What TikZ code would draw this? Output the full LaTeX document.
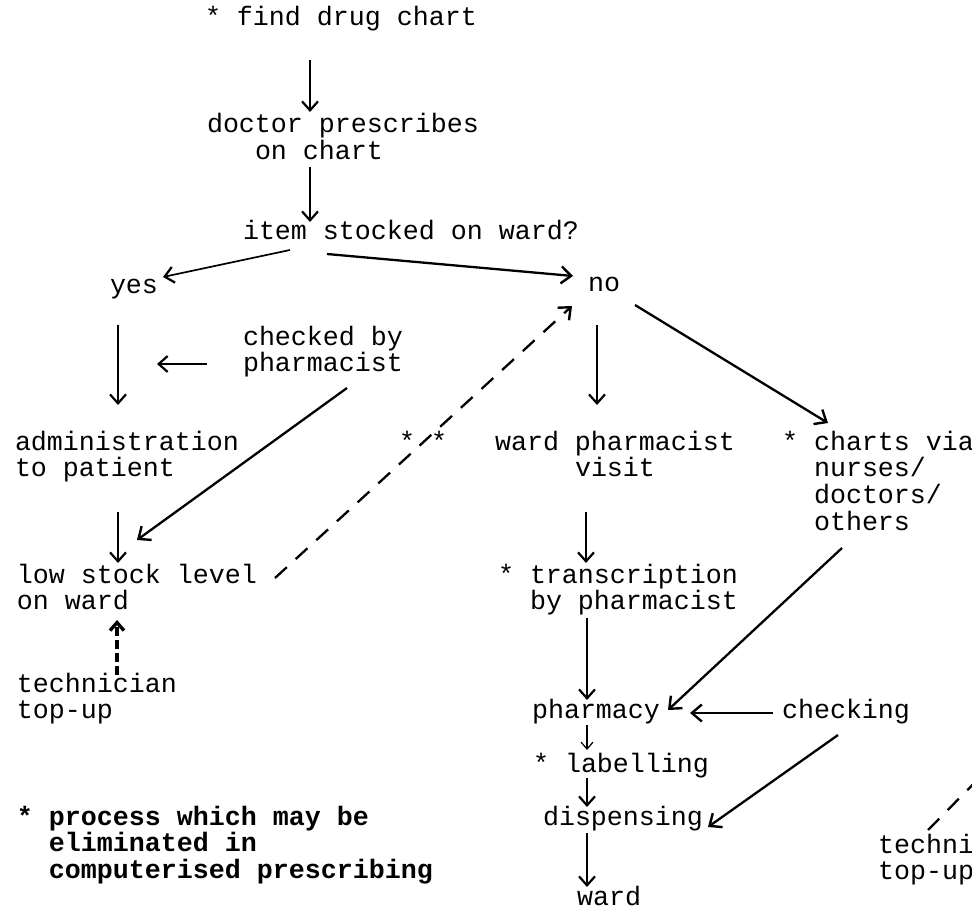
\documentclass[tikz,border=0pt]{standalone}
\usepackage{fontspec}
\newfontfamily\mono{Liberation Mono}
\usetikzlibrary{arrows.meta,calc}
\newcommand\ml[1]{\vtop{\lineskiplimit=-100pt\lineskip=0pt #1}}
\newcommand\ph[1]{\phantom{#1}}
\tikzset{
  txt/.style={inner sep=0pt, outer sep=0pt, anchor=base west, font=\mono\fontsize{13.33}{13.4}\selectfont},
  thinarr/.style={line width=0.55pt, -{Straight Barb[length=4.5pt,width=8pt,line width=1.1pt]}},
  smallarr/.style={line width=0.55pt, -{Straight Barb[length=3.5pt,width=6pt,line width=0.6pt]}},
  medarr/.style={line width=0.85pt, -{Straight Barb[length=4.5pt,width=8pt,line width=1.1pt]}},
  thickarr/.style={line width=1.15pt, -{Straight Barb[length=5pt,width=8.5pt,line width=1.2pt]}},
  dasharr/.style={thickarr, dash pattern=on 8pt off 6pt},
  dashline/.style={line width=1.15pt, dash pattern=on 8pt off 6pt},
}
\begin{document}
\begin{tikzpicture}[x=0.5pt,y=-0.5pt]
\useasboundingbox (0,0) rectangle (972,914);
% nodes
\node[txt] (find) at (205,26) {* find drug chart};
\node[txt] (doctor) at (207,133) {\ml{\hbox{doctor prescribes}\hbox{\ph{xxx}on chart}}};
\node[txt] (item) at (243,240) {item stocked on ward?};
\node[txt] (yes) at (110,293) {yes};
\node[txt] (no) at (588,292) {no};
\node[txt] (checked) at (243,345) {\ml{\hbox{checked by}\hbox{pharmacist}}};
\node[txt] (admin) at (15,450) {\ml{\hbox{administration}\hbox{to patient}}};
\node[txt] (stars) at (399,450) {* *};
\node[txt] (low) at (17,583) {\ml{\hbox{low stock level}\hbox{on ward}}};
\node[txt] (tech) at (17,692) {\ml{\hbox{technician}\hbox{top-up}}};
\node[txt,font=\mono\bfseries\fontsize{13.33}{13.3}\selectfont] (legend) at (17,825)
  {\ml{\hbox{* process which may be}\hbox{\ph{xx}eliminated in}\hbox{\ph{xx}computerised prescribing}}};
\node[txt] (wardph) at (495,450) {\ml{\hbox{ward pharmacist}\hbox{\ph{xxxxx}visit}}};
\node[txt] (charts) at (782,450) {\ml{\hbox{* charts via}\hbox{\ph{xx}nurses/}\hbox{\ph{xx}doctors/}\hbox{\ph{xx}others}}};
\node[txt] (transc) at (498,583) {\ml{\hbox{* transcription}\hbox{\ph{xx}by pharmacist}}};
\node[txt] (pharm) at (532,718) {pharmacy};
\node[txt] (checking) at (782,718) {checking};
\node[txt] (label) at (533,772) {* labelling};
\node[txt] (disp) at (543,825) {dispensing};
\node[txt] (ward) at (577,905) {ward};
\node[txt] (tech2) at (878,853) {\ml{\hbox{techni}\hbox{top-up}}};
\coordinate (chk) at (157,364);
\coordinate (offedge) at (995,762);
% connectors
\draw[thinarr] ($(find.base west)+(105,34)$) -- ($(doctor.base west)+(103,-21)$);
\draw[thinarr] ($(doctor.base west)+(103,34)$) -- ($(item.base west)+(67,-18)$);
\draw[medarr] ($(item.base west)+(47,10)$) -- ($(yes.base west)+(53,-16)$);
\draw[thickarr] ($(item.base west)+(84,14)$) -- ($(no.base west)+(-15,-16)$);
\draw[thinarr] ($(yes.base west)+(8,32)$) -- ($(admin.base west)+(103,-45)$);
\draw[thinarr] ($(checked.base west)+(-36,19)$) -- (chk);
\draw[thickarr] ($(checked.base west)+(104,43)$) -- ($(low.base west)+(120,-43)$);
\draw[thinarr] ($(admin.base west)+(103,62)$) -- ($(low.base west)+(101,-20)$);
\draw[dasharr] ($(low.base west)+(258,-5)$) -- ($(no.base west)+(-16,14)$);
\draw[line width=1.7pt, -{Straight Barb[length=4pt,width=7pt,line width=1.7pt]}, dash pattern=on 4.5pt off 2pt] ($(tech.base west)+(100,-17)$) -- ($(low.base west)+(100,37)$);
\draw[thinarr] ($(no.base west)+(9,33)$) -- ($(wardph.base west)+(102,-45)$);
\draw[thickarr] ($(no.base west)+(47,13)$) -- ($(charts.base west)+(46,-27)$);
\draw[thinarr] ($(wardph.base west)+(91,62)$) -- ($(transc.base west)+(88,-20)$);
\draw[medarr] ($(transc.base west)+(89,35)$) -- ($(pharm.base west)+(55,-18)$);
\draw[thickarr] ($(charts.base west)+(60,98)$) -- ($(pharm.base west)+(136,-8)$);
\draw[thickarr] ($(checking.base west)+(-9,-5)$) -- ($(pharm.base west)+(158,-5)$);
\draw[smallarr] ($(pharm.base west)+(55,7)$) -- ($(label.base west)+(54,-22)$);
\draw[medarr] ($(label.base west)+(54,6)$) -- ($(disp.base west)+(44,-18)$);
\draw[thickarr] ($(checking.base west)+(56,17)$) -- ($(disp.base west)+(165,2)$);
\draw[medarr] ($(disp.base west)+(44,8)$) -- ($(ward.base west)+(10,-18)$);
\draw[dashline] ($(tech2.base west)+(50,-23)$) -- (offedge);
\end{tikzpicture}
\end{document}
